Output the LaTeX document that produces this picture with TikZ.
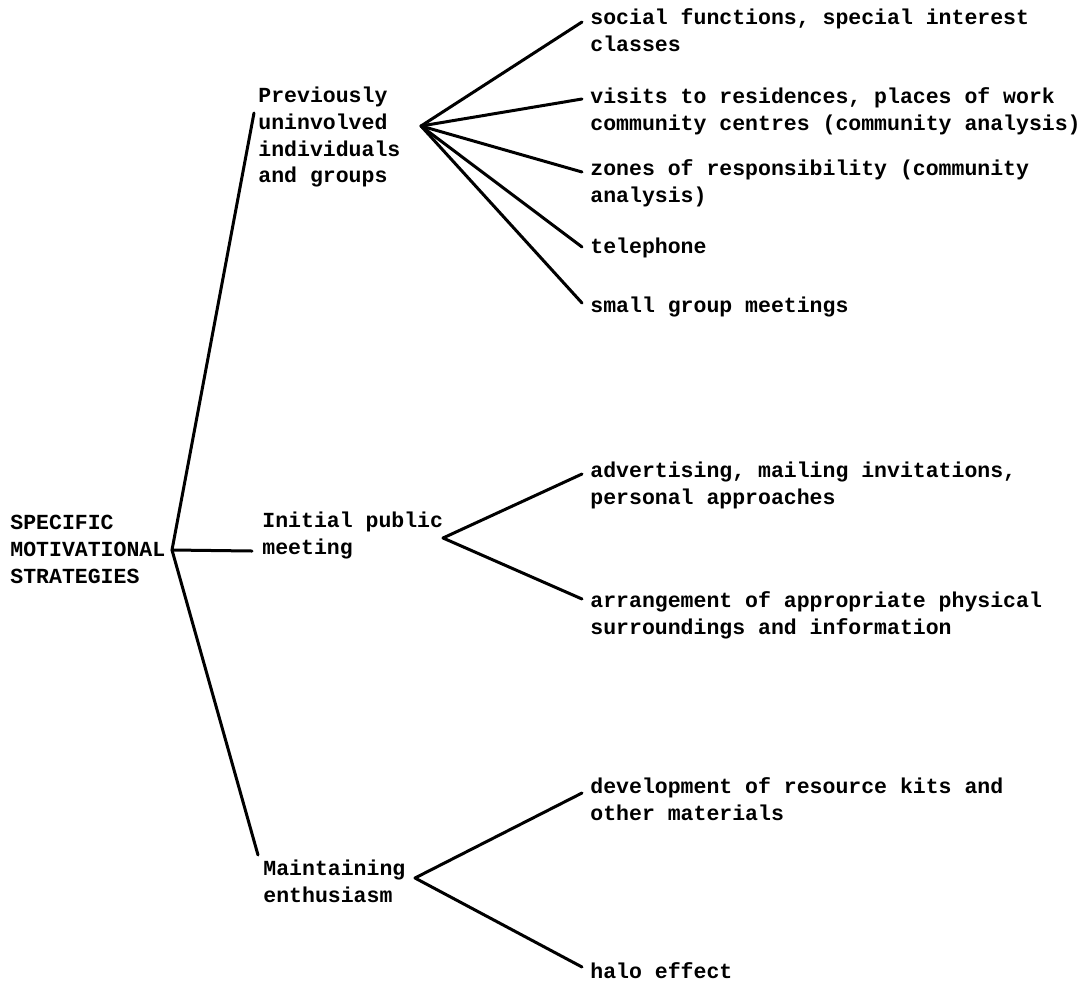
\documentclass[tikz,border=0pt]{standalone}
\usepackage{fontspec}
\setmainfont{Liberation Mono}
\usepackage{tikz}

\begin{document}
\begin{tikzpicture}[x=0.5pt,y=-0.5pt,
  txt/.style={anchor=north west,inner sep=0pt,align=left,
    font=\bfseries\fontsize{10.75}{13.4}\selectfont},
  br/.style={line width=1.5pt,line cap=round,line join=round}]
\useasboundingbox (0,0) rectangle (1092,986);

\node[txt] (root) at (10,515) {SPECIFIC\\MOTIVATIONAL\\STRATEGIES};

\node[txt] (prev) at (258,86.5) {Previously\\uninvolved\\individuals\\and groups};
\node[txt] (public) at (262,511.5) {Initial public\\meeting};
\node[txt] (maint) at (263,859.5) {Maintaining\\enthusiasm};

\node[txt] (social) at (590,8) {social functions, special interest\\classes};
\node[txt] (visits) at (590,87.5) {visits to residences, places of work\\community centres (community analysis)};
\node[txt] (zones) at (590,159.5) {zones of responsibility (community\\analysis)};
\node[txt] (phone) at (590,237.5) {telephone};
\node[txt] (small) at (590,296.5) {small group meetings};

\node[txt] (advert) at (590,461.5) {advertising, mailing invitations,\\personal approaches};
\node[txt] (arrange) at (590,591.5) {arrangement of appropriate physical\\surroundings and information};

\node[txt] (devel) at (590,777.5) {development of resource kits and\\other materials};
\node[txt] (halo) at (590,962.5) {halo effect};

% branch points
\coordinate (rj) at (172,550);
\coordinate (pj) at (421,126);
\coordinate (ij) at (443,538);
\coordinate (mj) at (415,878);

\draw[br] (rj) -- ([shift={(-4,26.5)}]prev.north west);
\draw[br] (rj) -- ([shift={(-10,39.5)}]public.north west);
\draw[br] (rj) -- ([shift={(-5,-4.5)}]maint.north west);

\foreach \leaf/\dy in {social/14,visits/11.5,zones/12.5,phone/9.5,small/6.5}
  \draw[br] (pj) -- ([shift={(-8,\dy)}]\leaf.north west);

\foreach \leaf/\dy in {advert/12.5,arrange/7.5}
  \draw[br] (ij) -- ([shift={(-8,\dy)}]\leaf.north west);

\foreach \leaf/\dy in {devel/15.5,halo/4.5}
  \draw[br] (mj) -- ([shift={(-8,\dy)}]\leaf.north west);

\end{tikzpicture}
\end{document}
